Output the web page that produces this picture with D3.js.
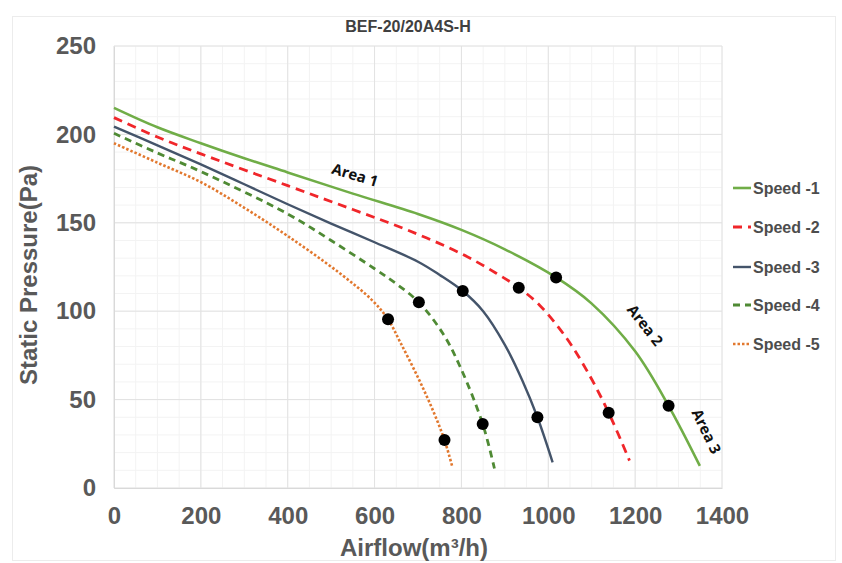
<!DOCTYPE html>
<html>
<head>
<meta charset="utf-8">
<script src="https://cdn.jsdelivr.net/npm/d3@7"></script>
<style>
  html, body { margin: 0; padding: 0; background: #fff; }
  svg { display: block; }
</style>
</head>
<body>
<svg id="chart" width="842" height="563"></svg>
<script>
// ---- data ----
const title = "BEF-20/20A4S-H";
const seriesNames = ["Speed -1", "Speed -2", "Speed -3", "Speed -4", "Speed -5"];
const speed1 = [[0,215],[100,204],[200,195],[300,186.5],[400,178.5],[550,166.5],[700,155],[800,146],[900,135],[1018,119.1],[1100,104.3],[1200,77.3],[1277,46.5],[1349,12.5]];
const speed2 = [[0,209.5],[100,198.5],[200,189],[400,171],[550,157.5],[675,146],[800,132.5],[880,121.5],[932,113.3],[980,103.4],[1040,85.5],[1090,65.9],[1139,42.6],[1187,15.5]];
const speed3 = [[0,204.4],[100,193.8],[200,183],[300,171.8],[400,160.5],[500,149.5],[600,139],[700,128],[750,120.5],[803,111.4],[850,100],[900,81],[940,61],[975,40],[1010,14.5]];
const speed4 = [[0,200.6],[100,189.5],[200,179],[400,155],[500,140],[600,124],[650,115.5],[702,105],[757,87.5],[797,68.6],[849,36.2],[876,11]];
const speed5 = [[0,195],[100,184],[200,173],[300,158.5],[400,142.5],[517,122],[594,106.3],[631,95.4],[660,82],[700,62.5],[735,43.5],[761,27.1],[779,12]];
const markers = [[1018,119.1],[1277,46.5],[932,113.3],[1139,42.6],[803,111.4],[975,40],[702,105],[849,36.2],[631,95.4],[761,27.1]];
const areaLabels = [["Area 1",555,177],["Area 2",1223,92],["Area 3",1364,32]];
const xTicks = [0,200,400,600,800,1000,1200,1400];
const yTicks = [0,50,100,150,200,250];
const xTitle = "Airflow(m³/h)";
const yTitle = "Static Pressure(Pa)";

// ---- styles ----
const colors = ["#70AD47", "#F0262A", "#44546A", "#4F8A34", "#E2782E"];
const dashes = [null, "9 6", null, "7 5", "2.5 2"];
const widths = [2.6, 2.8, 2.4, 2.8, 2.6];
const allSeries = [speed1, speed2, speed3, speed4, speed5];

const svg = d3.select("#chart");
const x = d3.scaleLinear().domain([0, 1400]).range([114, 722]);
const y = d3.scaleLinear().domain([0, 250]).range([488, 46]);

// outer border
svg.append("rect").attr("x", 12.5).attr("y", 16.5).attr("width", 823).attr("height", 544)
  .attr("fill", "none").attr("stroke", "#ececec");

// minor grid
const g = svg.append("g");
g.selectAll(".vminor").data(d3.range(0, 1401, 50)).enter().append("line")
  .attr("x1", d => x(d)).attr("x2", d => x(d)).attr("y1", y(0)).attr("y2", y(250))
  .attr("stroke", "#f3f3f3").attr("stroke-width", 1);
g.selectAll(".hminor").data(d3.range(0, 251, 10)).enter().append("line")
  .attr("x1", x(0)).attr("x2", x(1400)).attr("y1", d => y(d)).attr("y2", d => y(d))
  .attr("stroke", "#f3f3f3").attr("stroke-width", 1);
// major grid
g.selectAll(".vmajor").data(xTicks).enter().append("line")
  .attr("x1", d => x(d)).attr("x2", d => x(d)).attr("y1", y(0)).attr("y2", y(250))
  .attr("stroke", "#e2e2e2").attr("stroke-width", 1);
g.selectAll(".hmajor").data(yTicks).enter().append("line")
  .attr("x1", x(0)).attr("x2", x(1400)).attr("y1", d => y(d)).attr("y2", d => y(d))
  .attr("stroke", "#e2e2e2").attr("stroke-width", 1);

// axes
const xAxis = d3.axisBottom(x).tickValues(xTicks).tickSize(0).tickPadding(19).tickFormat(d3.format("d"));
const yAxis = d3.axisLeft(y).tickValues(yTicks).tickSize(0).tickPadding(18).tickFormat(d3.format("d"));
const gx = svg.append("g").attr("transform", `translate(0,${y(0)})`).call(xAxis);
const gy = svg.append("g").attr("transform", `translate(${x(0)},0)`).call(yAxis);
[gx, gy].forEach(a => {
  a.select(".domain").attr("stroke", "#d9d9d9");
  a.selectAll("text").attr("font-family", "Liberation Sans, Arial, sans-serif")
    .attr("font-weight", "bold").attr("font-size", 24).attr("fill", "#595959");
});
gx.selectAll("text").attr("dy", "0.71em");

// axis titles
svg.append("text").attr("x", 414).attr("y", 556).attr("text-anchor", "middle")
  .attr("font-family", "Liberation Sans, Arial, sans-serif").attr("font-weight", "bold")
  .attr("font-size", 24).attr("fill", "#595959").text(xTitle);
svg.append("text").attr("transform", "translate(37,275) rotate(-90)").attr("text-anchor", "middle")
  .attr("font-family", "Liberation Sans, Arial, sans-serif").attr("font-weight", "bold")
  .attr("font-size", 24).attr("fill", "#595959").text(yTitle);

// title
svg.append("text").attr("x", 408).attr("y", 32).attr("text-anchor", "middle")
  .attr("font-family", "Liberation Sans, Arial, sans-serif").attr("font-weight", "bold")
  .attr("font-size", 16).attr("fill", "#404040").text(title);

// curves
const line = d3.line().x(d => x(d[0])).y(d => y(d[1])).curve(d3.curveCatmullRom.alpha(0.5));
allSeries.forEach((s, i) => {
  svg.append("path").datum(s).attr("d", line).attr("fill", "none")
    .attr("stroke", colors[i]).attr("stroke-width", widths[i])
    .attr("stroke-dasharray", dashes[i]);
});

// markers
svg.selectAll(".mk").data(markers).enter().append("circle")
  .attr("cx", d => x(d[0])).attr("cy", d => y(d[1])).attr("r", 6).attr("fill", "#000");

// area labels
const rot = [17, 52, 64];
areaLabels.forEach((a, i) => {
  svg.append("text").attr("transform", `translate(${x(a[1])},${y(a[2])}) rotate(${rot[i]})`)
    .attr("text-anchor", "middle").attr("dy", "0.35em")
    .attr("font-family", "Open Sans, Noto Sans, sans-serif").attr("font-weight", "bold")
    .attr("font-size", 15).attr("fill", "#111").text(a[0]);
});

// legend
const legY = [188, 227, 267, 305, 344];
seriesNames.forEach((n, i) => {
  svg.append("line").attr("x1", 733).attr("x2", 751).attr("y1", legY[i]).attr("y2", legY[i])
    .attr("stroke", colors[i]).attr("stroke-width", widths[i]).attr("stroke-dasharray", dashes[i]);
  svg.append("text").attr("x", 753).attr("y", legY[i]).attr("dy", "0.35em")
    .attr("font-family", "Liberation Sans, Arial, sans-serif").attr("font-weight", "bold")
    .attr("font-size", 16).attr("fill", "#4d4d4d").text(n);
});
</script>
</body>
</html>
